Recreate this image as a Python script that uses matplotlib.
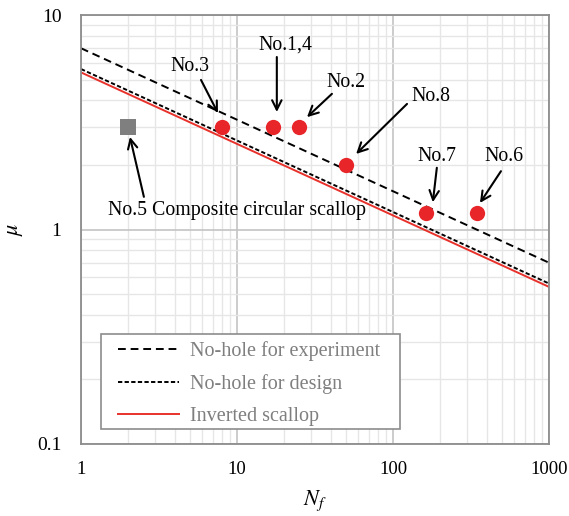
import numpy as np
import matplotlib
matplotlib.use("Agg")
import matplotlib.pyplot as plt
from matplotlib.patches import Rectangle
from matplotlib.ticker import LogLocator, FixedLocator, FixedFormatter, NullFormatter

plt.rcParams['font.family'] = ['Liberation Serif', 'DejaVu Serif']
plt.rcParams['mathtext.fontset'] = 'stix'

# Design lines: mu = C * Nf^(-1/3)
line_names = ["No-hole for experiment", "No-hole for design", "Inverted scallop"]
line_coef = [7.0, 5.6, 5.4]
line_exp = -1.0 / 3.0
nf_range = [1, 1000]

# Test specimens
pt_labels = ["No.3", "No.1,4", "No.2", "No.8", "No.7", "No.6"]
pt_nf = [8, 17, 25, 50, 162, 344]
pt_mu = [3.0, 3.0, 3.0, 2.0, 1.2, 1.2]
sq_label = "No.5 Composite circular scallop"
sq_nf = [2]
sq_mu = [3.0]

# label placement (data coords): text centre, arrow tail, arrow tip
txt_pos = [(5.0, 5.78), (20.3, 7.25), (50, 4.87), (175, 4.19), (191, 2.20), (515, 2.20)]
arr_tail = [(5.88, 4.98), (18.0, 6.37), (40.6, 4.29), (123, 3.85), (191, 1.94), (492, 1.87)]
arr_tip = [(7.55, 3.49), (18.0, 3.53), (28.1, 3.34), (58, 2.25), (180, 1.34), (361, 1.33)]
sq_txt = (10.0, 1.22)
sq_tail = (2.53, 1.42)
sq_tip = (2.06, 2.70)

fig = plt.figure(figsize=(5.69, 5.16), dpi=100)
ax = fig.add_axes([81/569, 72/516, 468/569, 429/516])
ax.set_xscale('log')
ax.set_yscale('log')
ax.set_xlim(1, 1000)
ax.set_ylim(0.1, 10)

# grid
ax.xaxis.set_major_locator(FixedLocator([1, 10, 100, 1000]))
ax.xaxis.set_major_formatter(FixedFormatter(["1", "10", "100", "1000"]))
ax.yaxis.set_major_locator(FixedLocator([0.1, 1, 10]))
ax.yaxis.set_major_formatter(FixedFormatter(["0.1", "1", "10"]))
ax.xaxis.set_minor_locator(LogLocator(base=10, subs=np.arange(2, 10), numticks=20))
ax.yaxis.set_minor_locator(LogLocator(base=10, subs=np.arange(2, 10), numticks=20))
ax.xaxis.set_minor_formatter(NullFormatter())
ax.yaxis.set_minor_formatter(NullFormatter())
ax.grid(which='major', color='#c4c4c4', linewidth=1.2)
ax.grid(which='minor', color='#e6e6e6', linewidth=1.0)
ax.set_axisbelow(True)
ax.tick_params(which='both', length=0, colors='black')
ax.tick_params(axis='x', pad=12, labelsize=13.5)
ax.tick_params(axis='y', pad=14, labelsize=14)
for s in ax.spines.values():
    s.set_color('#8c8c8c')
    s.set_linewidth(1.3)

nf = np.array(nf_range, dtype=float)
styles = [
    dict(color='black', linestyle=(0, (4, 2.5)), linewidth=1.4),
    dict(color='black', linestyle=(0, (2.2, 1.2)), linewidth=1.4),
    dict(color='#e8312b', linestyle='-', linewidth=1.4),
]
for name, c, st in zip(line_names, line_coef, styles):
    ax.plot(nf, c * nf ** line_exp, label=name, **st)

ax.plot(pt_nf, pt_mu, 'o', color='#e8262a', markersize=11, markeredgewidth=0, zorder=5)
ax.plot(sq_nf, sq_mu, 's', color='#7f7f7f', markersize=11, markeredgewidth=0, zorder=5)

arrowprops = dict(arrowstyle='->', color='black', lw=1.5, mutation_scale=17,
                  shrinkA=0, shrinkB=0)
for lab, tp, tl, ti in zip(pt_labels, txt_pos, arr_tail, arr_tip):
    ax.text(tp[0], tp[1], lab, ha='center', va='center', fontsize=14.3)
    ax.annotate('', xy=ti, xytext=tl, arrowprops=arrowprops)
ax.text(sq_txt[0], sq_txt[1], sq_label, ha='center', va='center', fontsize=14.3)
ax.annotate('', xy=sq_tip, xytext=sq_tail, arrowprops=arrowprops)

ax.set_xlabel(r'$N_f$', fontsize=16, labelpad=8)
ax.set_ylabel(r'$\mu$', fontsize=16, labelpad=9)

# legend frame drawn separately, legend contents without frame
ax.add_patch(Rectangle((20/468, 15/429), 299/468, 95/429, transform=ax.transAxes,
                       facecolor='white', edgecolor='#8c8c8c', linewidth=1.2, zorder=6))
leg = ax.legend(loc='upper left', bbox_to_anchor=(37/468, (444-341)/429),
                fontsize=14.5, frameon=False, handlelength=3.05, handletextpad=0.55,
                borderpad=0, labelspacing=0.65, borderaxespad=0)
leg.set_zorder(7)
for t in leg.get_texts():
    t.set_color('#7f7f7f')

fig.savefig('out.png', dpi=100)
